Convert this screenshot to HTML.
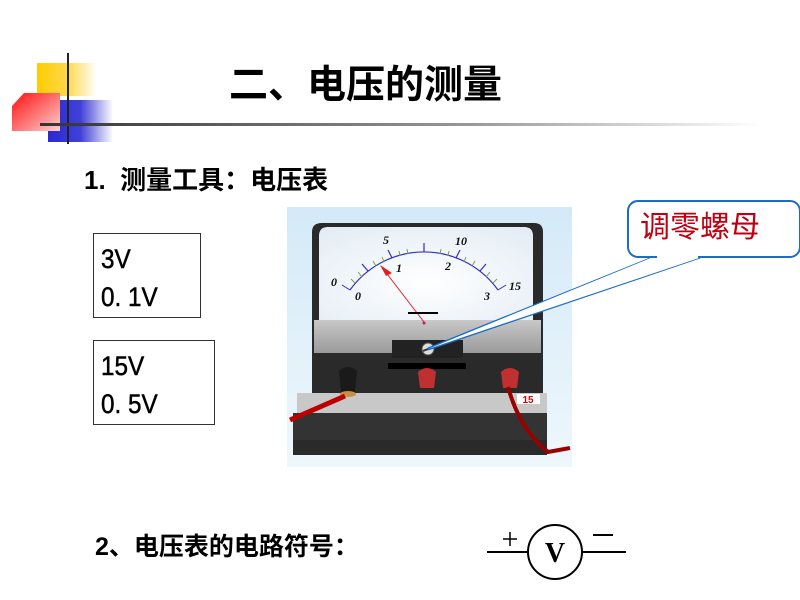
<!DOCTYPE html>
<html><head><meta charset="utf-8"><style>
body{margin:0;width:800px;height:600px;background:#fff;position:relative;overflow:hidden;font-family:"Liberation Sans","Noto Sans CJK SC",sans-serif}
.t{position:absolute;white-space:nowrap;line-height:1}
.box{position:absolute;border:1px solid #333;box-sizing:border-box}
</style></head><body>
<svg width="800" height="600" style="position:absolute;left:0;top:0">
<defs>
<linearGradient id="gy" x1="0" x2="1"><stop offset="0" stop-color="#ffcc00"/><stop offset="0.5" stop-color="#ffd84a"/><stop offset="1" stop-color="#fff"/></linearGradient>
<linearGradient id="gb" x1="0" x2="1"><stop offset="0" stop-color="#2a2ad0"/><stop offset="0.5" stop-color="#4040d8"/><stop offset="1" stop-color="#fff"/></linearGradient>
<linearGradient id="gr" x1="0" y1="0" x2="1" y2="1"><stop offset="0" stop-color="#ff1010"/><stop offset="1" stop-color="#ffd0d0"/></linearGradient>
<linearGradient id="gl" x1="0" x2="1"><stop offset="0" stop-color="#333"/><stop offset="0.6" stop-color="#999"/><stop offset="1" stop-color="#fff"/></linearGradient>
<linearGradient id="bg" x1="0" y1="0" x2="0" y2="1"><stop offset="0" stop-color="#d4eaf8"/><stop offset="1" stop-color="#eef7fc"/></linearGradient>
<linearGradient id="band" x1="0" y1="0" x2="0" y2="1"><stop offset="0" stop-color="#c8c8c8"/><stop offset="1" stop-color="#9a9a9a"/></linearGradient>
<radialGradient id="face" cx="0.5" cy="0.6" r="0.7"><stop offset="0" stop-color="#fff"/><stop offset="1" stop-color="#e4edf5"/></radialGradient>
</defs>
<rect x="37" y="63" width="60" height="33" fill="url(#gy)"/>
<rect x="48" y="100" width="65" height="42" fill="url(#gb)"/>
<polygon points="24,93 60,93 60,131 12,131 12,106" fill="url(#gr)"/>
<line x1="68" y1="53" x2="68" y2="144" stroke="#222" stroke-width="2"/>
<rect x="40" y="123" width="720" height="3" fill="url(#gl)"/>

<rect x="287" y="207" width="285" height="260" fill="url(#bg)"/>
<path d="M312,232 Q312,223 322,223 L534,223 Q543,223 543,232 L543,393 L312,393 Z" fill="#2a2a2a"/>
<path d="M319,236 Q319,227 328,227 L524,227 Q533,227 533,236 L533,320 L319,320 Z" fill="url(#face)"/>
<rect x="314" y="320" width="227" height="33" fill="url(#band)"/>
<rect x="392" y="340" width="71" height="18" fill="#222"/>
<rect x="388" y="363" width="78" height="6" fill="#000"/>
<circle cx="428" cy="349" r="6" fill="#ddd" stroke="#555"/>
<line x1="423" y1="351" x2="433" y2="347" stroke="#333" stroke-width="2"/>
<rect x="297" y="393" width="250" height="20" fill="#c8c8c8"/>
<rect x="293" y="413" width="254" height="42" fill="#333"/>
<rect x="293" y="440" width="254" height="15" fill="#2a2a2a"/>
<rect x="517" y="394" width="23" height="10" fill="#fff"/>
<text x="528" y="403" font-size="10" font-weight="bold" fill="#d00" text-anchor="middle" font-family="Liberation Sans">15</text>
<path d="M339,371 Q348,363 357,371 L355,392 L341,392 Z" fill="#1a1a1a"/>
<ellipse cx="348" cy="394" rx="8" ry="3" fill="#c89040"/>
<path d="M418,372 Q427,364 436,372 L434,388 L420,388 Z" fill="#c03030"/>
<path d="M501,372 Q510,364 519,372 L517,388 L503,388 Z" fill="#c03030"/>
<path d="M290,420 L345,396" stroke="#b00" stroke-width="5" fill="none"/>
<path d="M508,387 Q520,430 548,452 L570,448" stroke="#900" stroke-width="4" fill="none"/>
<path d="M350,290 A91,91 0 0 1 498,290" stroke="#3030c0" stroke-width="1.2" fill="none"/>
<line x1="342" y1="285" x2="350" y2="290" stroke="#3030c0"/>
<line x1="506" y1="285" x2="498" y2="290" stroke="#3030c0"/>
<g stroke="#7aa040" stroke-width="1">
<line x1="355" y1="283" x2="351" y2="279"/><line x1="362" y1="277" x2="358" y2="272"/><line x1="376" y1="266" x2="373" y2="261"/><line x1="384" y1="262" x2="382" y2="257"/><line x1="400" y1="256" x2="399" y2="251"/><line x1="408" y1="254" x2="407" y2="249"/><line x1="440" y1="254" x2="441" y2="249"/><line x1="448" y1="256" x2="449" y2="251"/><line x1="464" y1="262" x2="466" y2="257"/><line x1="472" y1="266" x2="475" y2="261"/><line x1="486" y1="277" x2="490" y2="272"/><line x1="493" y1="283" x2="497" y2="279"/>
</g>
<g stroke="#3030c0" stroke-width="1.2">
<line x1="368" y1="271" x2="362" y2="264"/><line x1="392" y1="258" x2="388" y2="250"/><line x1="424" y1="252" x2="424" y2="243"/><line x1="456" y1="258" x2="460" y2="250"/><line x1="480" y1="271" x2="486" y2="264"/>
</g>
<g font-family="Liberation Serif" font-weight="bold" font-style="italic" font-size="12" fill="#111">
<text x="331" y="286">0</text><text x="355" y="300">0</text><text x="383" y="244">5</text><text x="396" y="272">1</text><text x="455" y="245">10</text><text x="445" y="270">2</text><text x="509" y="290">15</text><text x="484" y="300">3</text>
</g>
<line x1="424" y1="322" x2="384" y2="270" stroke="#e02020" stroke-width="1"/>
<polygon points="380,265 392,273 386,276" fill="#e02020"/>
<circle cx="424" cy="323" r="1.5" fill="#c02060"/>
<line x1="408" y1="313" x2="438" y2="313" stroke="#000" stroke-width="2"/>
<path d="M655,257 L428,349 L700,257" stroke="#1c6cc8" stroke-width="3" fill="none"/>
<path d="M653,257 L428,349 L702,257 Z" fill="#fff" stroke="none"/>
<rect x="628" y="201" width="172" height="56" rx="10" fill="#fff" stroke="#1c6cc8" stroke-width="2"/>
<line x1="657" y1="257" x2="698" y2="257" stroke="#fff" stroke-width="3"/>
<line x1="487" y1="552" x2="528" y2="552" stroke="#000" stroke-width="2"/>
<line x1="582" y1="552" x2="626" y2="552" stroke="#000" stroke-width="2"/>
<circle cx="555" cy="552" r="27" fill="none" stroke="#000" stroke-width="2"/>
<text x="555" y="562" font-family="Liberation Serif" font-weight="bold" font-size="28" text-anchor="middle">V</text>
<line x1="503" y1="539" x2="517" y2="539" stroke="#000" stroke-width="1.5"/>
<line x1="510" y1="532" x2="510" y2="546" stroke="#000" stroke-width="1.5"/>
<line x1="593" y1="535" x2="613" y2="535" stroke="#000" stroke-width="2"/>
</svg>
<div class="t" style="left:229px;top:66px;font-size:39px;font-weight:bold">二、电压的测量</div>
<div class="t" style="left:84px;top:167px;font-size:26px;font-weight:bold">1.&nbsp; 测量工具：电压表</div>
<div class="box" style="left:93px;top:233px;width:108px;height:85px"></div>
<div class="t" style="left:101px;top:240px;font-size:27px;line-height:38px;transform:scaleX(0.9);transform-origin:left;-webkit-text-stroke:0.5px #000">3V<br>0. 1V</div>
<div class="box" style="left:93px;top:340px;width:122px;height:85px"></div>
<div class="t" style="left:101px;top:347px;font-size:27px;line-height:38px;transform:scaleX(0.9);transform-origin:left;-webkit-text-stroke:0.5px #000">15V<br>0. 5V</div>
<div class="t" style="left:640px;top:213px;font-size:30px;color:#c00010">调零螺母</div>
<div class="t" style="left:95px;top:535px;font-size:25px;font-weight:bold">2、电压表的电路符号：</div>
</body></html>
